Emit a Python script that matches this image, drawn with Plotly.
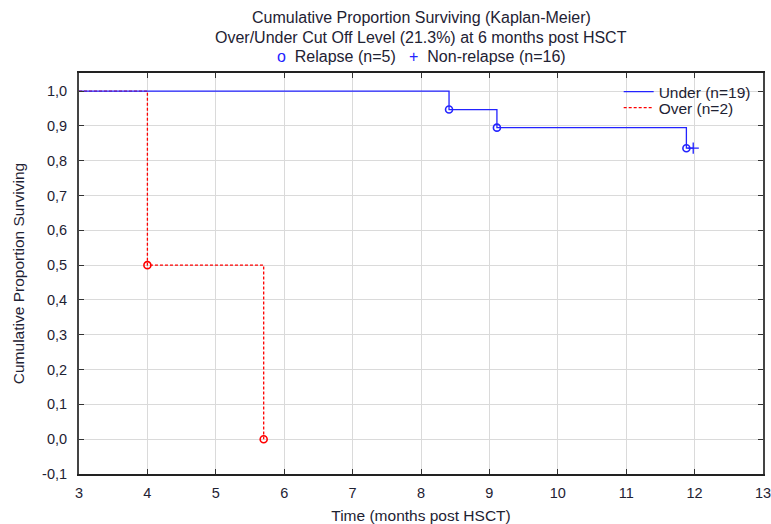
import plotly.graph_objects as go

# Kaplan-Meier step data
under_time = [3.0, 8.41, 9.11, 11.88, 11.98]
under_surv = [1.0, 0.947, 0.895, 0.836, 0.836]
over_time = [3.0, 4.0, 5.7]
over_surv = [1.0, 0.5, 0.0]

# Event markers
relapse_time = [8.41, 9.11, 11.88, 4.0, 5.7]
relapse_surv = [0.947, 0.895, 0.836, 0.5, 0.0]
relapse_color = ["#2323ff", "#2323ff", "#2323ff", "#ff0000", "#ff0000"]
censor_time = [11.98]
censor_surv = [0.836]

x_ticks = [3, 4, 5, 6, 7, 8, 9, 10, 11, 12, 13]
y_ticks = [-0.1, 0.0, 0.1, 0.2, 0.3, 0.4, 0.5, 0.6, 0.7, 0.8, 0.9, 1.0]
y_ticktext = ["-0,1", "0,0", "0,1", "0,2", "0,3", "0,4", "0,5", "0,6", "0,7", "0,8", "0,9", "1,0"]

BLUE = "#2323ff"
RED = "#ff0000"
FONT = "Liberation Sans, Arial, sans-serif"
TXT = "#1e2233"

fig = go.Figure()
fig.add_trace(go.Scatter(x=over_time, y=over_surv, mode="lines", line_shape="hv",
                         line=dict(color=RED, width=1.3, dash="3px,2px"), name="Over (n=2)",
                         legend="legend2"))
fig.add_trace(go.Scatter(x=under_time, y=under_surv, mode="lines", line_shape="hv",
                         line=dict(color=BLUE, width=1.3), name="Under (n=19)",
                         legend="legend"))
fig.add_trace(go.Scatter(x=relapse_time, y=relapse_surv, mode="markers",
                         marker=dict(symbol="circle-open", size=7, color=relapse_color,
                                     line=dict(width=1.6, color=relapse_color)),
                         showlegend=False))
fig.add_trace(go.Scatter(x=censor_time, y=censor_surv, mode="markers",
                         marker=dict(symbol="cross-thin-open", size=8, color=BLUE,
                                     line=dict(width=1.3, color=BLUE)),
                         showlegend=False))

leg_common = dict(xanchor="left", yanchor="top", bgcolor="rgba(255,255,255,0)",
                  font=dict(size=15.5, color=TXT), itemwidth=30)
fig.update_layout(
    width=771, height=524,
    margin=dict(l=79, r=8, t=73, b=50, autoexpand=False),
    plot_bgcolor="white", paper_bgcolor="white",
    font=dict(family=FONT, size=15, color=TXT),
    legend=dict(x=0.789, y=0.995, **leg_common),
    legend2=dict(x=0.789, y=0.955, **leg_common),
    showlegend=True,
)
fig.update_xaxes(range=[3, 13], tickvals=x_ticks, ticks="inside", ticklen=5, tickcolor="#333",
                 showgrid=True, gridcolor="#dadada", gridwidth=1.3,
                 showline=True, linecolor="#222222", linewidth=2, mirror="ticks",
                 zeroline=False, automargin=False, ticklabelstandoff=5,
                 ticklabeloverflow="allow",
                 title=dict(text="Time (months post HSCT)", font=dict(size=15.5), standoff=14),
                 tickfont=dict(size=14.5))
fig.update_yaxes(range=[-0.1, 1.052], tickvals=y_ticks, ticktext=y_ticktext,
                 ticks="inside", ticklen=5, tickcolor="#333",
                 showgrid=True, gridcolor="#dadada", gridwidth=1.3,
                 showline=True, linecolor="#444444", linewidth=2, mirror="ticks",
                 zeroline=False, automargin=False, ticklabelstandoff=7,
                 ticklabeloverflow="allow",
                 title=dict(text="Cumulative Proportion Surviving", font=dict(size=15.5), standoff=14),
                 tickfont=dict(size=14.5))

fig.add_annotation(text="Cumulative Proportion Surviving (Kaplan-Meier)", xref="paper", yref="paper",
                   x=0.5, y=1, yshift=73 - 17, showarrow=False, font=dict(size=16), yanchor="middle")
fig.add_annotation(text="Over/Under Cut Off Level (21.3%) at 6 months post HSCT", xref="paper", yref="paper",
                   x=0.5, y=1, yshift=73 - 37, showarrow=False, font=dict(size=16), yanchor="middle")
fig.add_annotation(text="<span style='color:#2323ff'>o</span>  Relapse (n=5)   <span style='color:#2323ff'>+</span>  Non-relapse (n=16)",
                   xref="paper", yref="paper",
                   x=0.5, y=1, yshift=73 - 56, showarrow=False, font=dict(size=16), yanchor="middle")

fig.write_html("out.html")
